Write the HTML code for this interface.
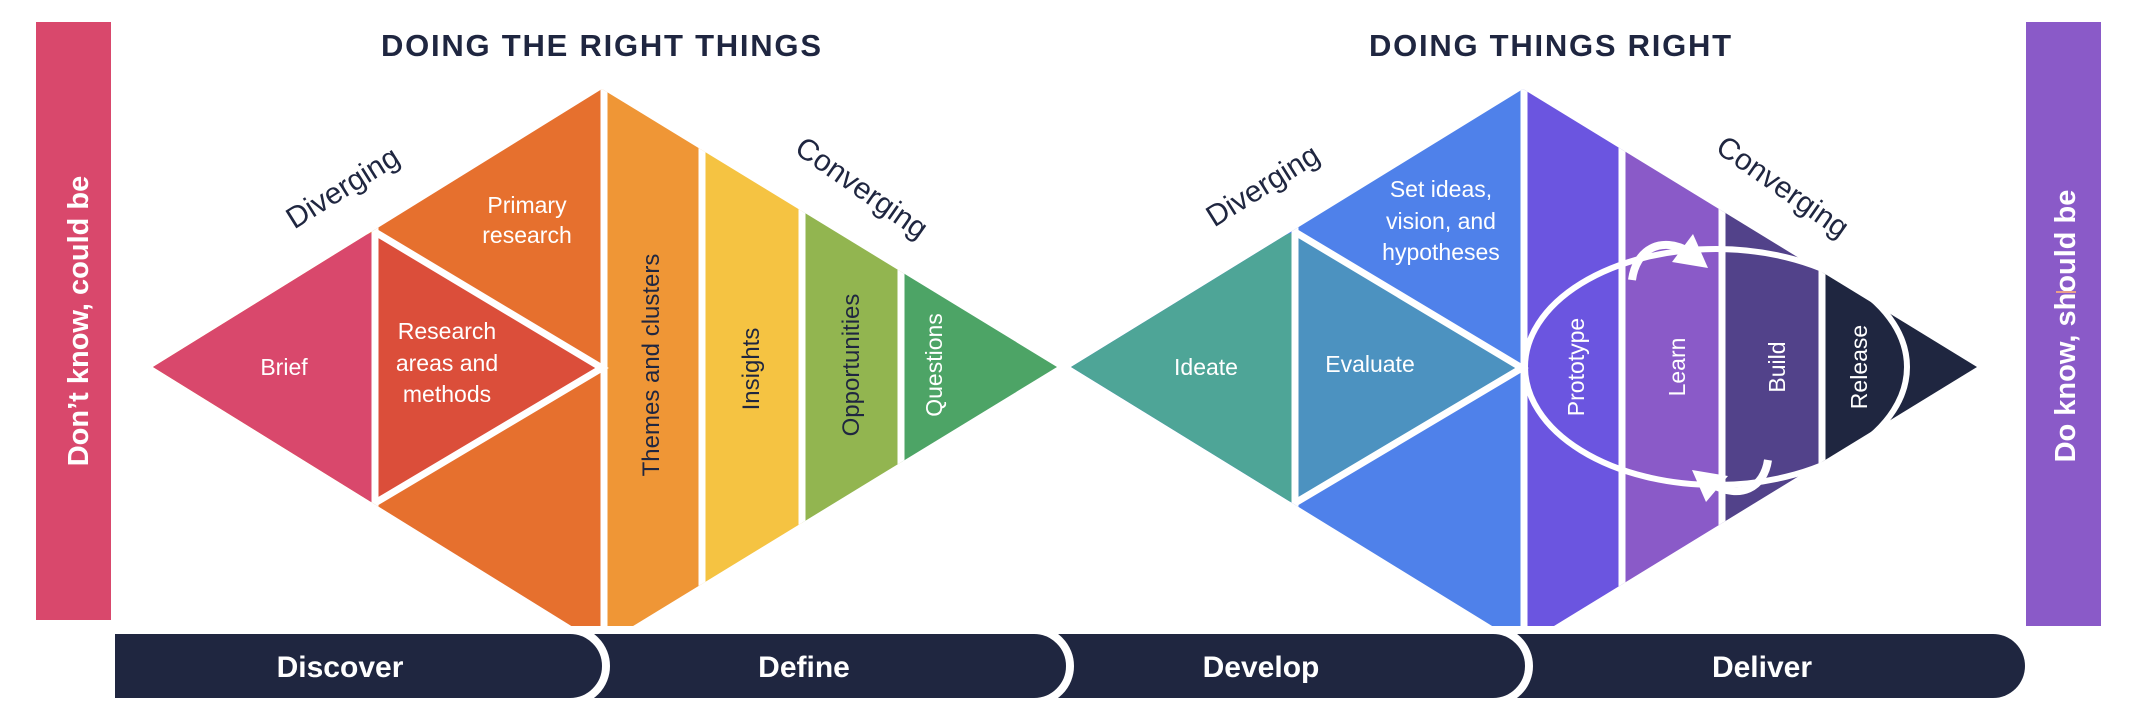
<!DOCTYPE html>
<html><head><meta charset="utf-8"><style>
html,body{margin:0;padding:0;background:#fff;}
svg{display:block;}
text{font-family:"Liberation Sans",sans-serif;}
</style></head><body>
<svg width="2132" height="716" viewBox="0 0 2132 716" xmlns="http://www.w3.org/2000/svg">
<defs>
<clipPath id="dl"><polygon points="153,367 602,89 1057,367 602,645"/></clipPath>
<clipPath id="dr"><polygon points="1071,367 1523,89 1977,367 1523,645"/></clipPath>
<clipPath id="ell"><ellipse cx="1716" cy="367" rx="190" ry="117"/></clipPath>
<clipPath id="top"><rect x="0" y="0" width="2132" height="626"/></clipPath>
</defs>

<!-- side bars -->
<rect x="36" y="22" width="75" height="598" fill="#D9486C"/>
<text transform="translate(88,321) rotate(-90)" text-anchor="middle" font-size="29" font-weight="bold" fill="#fff">Don’t know, could be</text>
<rect x="2026" y="22" width="75" height="607" fill="#8A5AC8"/>
<text transform="translate(2075,326) rotate(-90)" text-anchor="middle" font-size="29" font-weight="bold" fill="#fff">Do know, should be</text>
<rect x="2056" y="291" width="20" height="2" fill="#E9A08A"/>

<!-- titles -->
<text x="601" y="56" text-anchor="middle" font-size="31" font-weight="bold" fill="#1F2640" textLength="440">DOING THE RIGHT THINGS</text>
<text x="1550" y="56" text-anchor="middle" font-size="31" font-weight="bold" fill="#1F2640" textLength="362">DOING THINGS RIGHT</text>

<g clip-path="url(#top)">
<g clip-path="url(#dl)">
  <rect x="150" y="80" width="452" height="570" fill="#E6702E"/>
  <polygon points="150,300 375,232 375,503 150,440" fill="#D9486C"/>
  <polygon points="375,232 600,367 375,503" fill="#DB4E3A"/>
  <rect x="602" y="80" width="100" height="570" fill="#EF9636"/>
  <rect x="702" y="80" width="100" height="570" fill="#F5C342"/>
  <rect x="802" y="80" width="100" height="570" fill="#92B550"/>
  <rect x="902" y="80" width="160" height="570" fill="#4DA466"/>
  <g stroke="#fff" stroke-width="7" fill="none">
    <line x1="375" y1="220" x2="375" y2="515"/>
    <polyline points="375,232 602,368 375,503"/>
    <line x1="604" y1="80" x2="604" y2="650"/>
    <line x1="702" y1="80" x2="702" y2="650"/>
    <line x1="802" y1="80" x2="802" y2="650"/>
    <line x1="901" y1="80" x2="901" y2="650"/>
  </g>
</g>
<g clip-path="url(#dr)">
  <rect x="1065" y="80" width="458" height="570" fill="#4F81EA"/>
  <polygon points="1065,300 1295,232 1295,503 1065,440" fill="#4EA597"/>
  <polygon points="1295,232 1520,367 1295,503" fill="#4C92C0"/>
  <rect x="1523" y="80" width="99" height="570" fill="#6B55E0"/>
  <rect x="1622" y="80" width="100" height="570" fill="#8A5AC8"/>
  <rect x="1722" y="80" width="100" height="570" fill="#52428A"/>
  <rect x="1886" y="80" width="100" height="570" fill="#1F2640"/>
  <g clip-path="url(#ell)"><rect x="1822" y="80" width="100" height="570" fill="#1F2640"/></g>
  <g stroke="#fff" stroke-width="7" fill="none">
    <line x1="1295" y1="220" x2="1295" y2="515"/>
    <polyline points="1295,232 1522,368 1295,503"/>
    <line x1="1524" y1="80" x2="1524" y2="650"/>
    <line x1="1622" y1="80" x2="1622" y2="650"/>
    <line x1="1722" y1="80" x2="1722" y2="650"/>
    <line x1="1822" y1="80" x2="1822" y2="650"/>
  </g>
</g>
</g>
<ellipse cx="1716" cy="367" rx="191" ry="118" fill="none" stroke="#fff" stroke-width="6"/>
<path d="M1632,280 C1636,250 1660,235 1690,252" fill="none" stroke="#fff" stroke-width="8"/>
<polygon points="1693,234 1708,268 1672,262" fill="#fff"/>
<path d="M1768,460 C1764,488 1740,500 1712,484" fill="none" stroke="#fff" stroke-width="8"/>
<polygon points="1692,470 1728,476 1706,502" fill="#fff"/>

<g fill="#fff" font-size="23" text-anchor="middle">
<text x="284" y="375">Brief</text>
<text x="447" y="339">Research</text>
<text x="447" y="371">areas and</text>
<text x="447" y="402">methods</text>
<text x="527" y="213">Primary</text>
<text x="527" y="243">research</text>
<text transform="translate(942,365) rotate(-90)">Questions</text>
<text x="1206" y="375">Ideate</text>
<text x="1370" y="372">Evaluate</text>
<text x="1441" y="197">Set ideas,</text>
<text x="1441" y="229">vision, and</text>
<text x="1441" y="260">hypotheses</text>
<text transform="translate(1584,367) rotate(-90)">Prototype</text>
<text transform="translate(1685,367) rotate(-90)">Learn</text>
<text transform="translate(1785,367) rotate(-90)">Build</text>
<text transform="translate(1867,367) rotate(-90)">Release</text>
</g>
<g fill="#1F2640" font-size="24" text-anchor="middle">
<text transform="translate(659,365) rotate(-90)">Themes and clusters</text>
<text transform="translate(759,369) rotate(-90)">Insights</text>
<text transform="translate(859,365) rotate(-90)">Opportunities</text>
</g>
<g fill="#1F2640" font-size="30" text-anchor="middle">
<text transform="translate(348,196) rotate(-32)">Diverging</text>
<text transform="translate(856,196) rotate(35)">Converging</text>
<text transform="translate(1268,194) rotate(-32)">Diverging</text>
<text transform="translate(1777,195) rotate(35)">Converging</text>
</g>

<g fill="#1F2640" stroke="#fff" stroke-width="8">
<path d="M1500,634 H1993 A32,32 0 0 1 1993,698 H1500 Z" stroke="none"/>
<path d="M1040,630 H1493 A36,36 0 0 1 1493,702 H1040 Z"/>
<path d="M580,630 H1034 A36,36 0 0 1 1034,702 H580 Z"/>
<path d="M111,630 H570 A36,36 0 0 1 570,702 H111 Z"/>
</g>
<rect x="0" y="626" width="2132" height="8" fill="#fff"/>
<rect x="0" y="698" width="2132" height="18" fill="#fff"/>
<rect x="100" y="620" width="11" height="96" fill="#fff"/>
<g fill="#fff" font-size="30" font-weight="bold" text-anchor="middle">
<text x="340" y="677">Discover</text>
<text x="804" y="677">Define</text>
<text x="1261" y="677">Develop</text>
<text x="1762" y="677">Deliver</text>
</g>
</svg>
</body></html>
